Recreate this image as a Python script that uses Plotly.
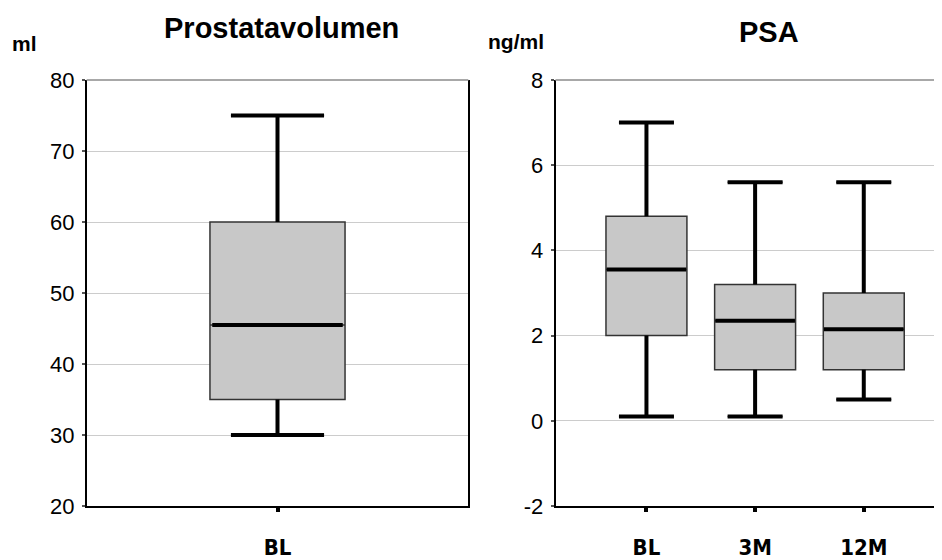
import plotly.graph_objects as go

# ---- data ----
vol_categories = ["BL"]
vol_lower = [30]
vol_q1 = [35]
vol_median = [45.5]
vol_q3 = [60]
vol_upper = [75]

psa_categories = ["BL", "3M", "12M"]
psa_lower = [0.1, 0.1, 0.5]
psa_q1 = [2.0, 1.2, 1.2]
psa_median = [3.55, 2.35, 2.15]
psa_q3 = [4.8, 3.2, 3.0]
psa_upper = [7.0, 5.6, 5.6]

vol_yticks = [20, 30, 40, 50, 60, 70, 80]
vol_yticktext = ["20", "30", "40", "50", "60", "70", "80"]
psa_yticks = [-2, 0, 2, 4, 6, 8]
psa_yticktext = ["-2", "0", "2", "4", "6", "8"]

# ---- style ----
BOX_FILL = "#c8c8c8"
OUTLINE = "#333333"
THICK = 4
GRID = "#cccccc"
TICKFONT = dict(family="Liberation Sans, Arial", size=22, color="black")
CATFONT = dict(family="Liberation Sans Narrow, DejaVu Sans Condensed, Liberation Sans", size=22, color="black")
TITLEFONT = dict(family="Liberation Sans, Arial", size=29, color="black")
UNITFONT = dict(family="Liberation Sans, Arial", size=21, color="black")

W, H = 942, 560
OFF = 8  # page body margin offset in the screenshot


def px_x(x):
    return (x - OFF) / W


def px_y(y):
    return 1 - (y - OFF) / H


L1, R1 = px_x(86.7), px_x(468.3)
L2, R2 = px_x(555.5), px_x(942)
YB, YT = px_y(506), px_y(80)


def whisker_median_lines(n, lower, q1, med, q3, upper, box_w, cap_w):
    xs, ys = [], []
    for i in range(n):
        xs += [i, i, None, i - cap_w / 2, i + cap_w / 2, None]
        ys += [q3[i], upper[i], None, upper[i], upper[i], None]
        xs += [i, i, None, i - cap_w / 2, i + cap_w / 2, None]
        ys += [q1[i], lower[i], None, lower[i], lower[i], None]
        xs += [i - box_w / 2 + 0.006, i + box_w / 2 - 0.006, None]
        ys += [med[i], med[i], None]
    return xs, ys


fig = go.Figure()

VOL_BOX_W, VOL_CAP_W = 0.354, 0.244
PSA_BOX_W, PSA_CAP_W = 0.745, 0.506

fig.add_trace(go.Box(
    x=list(range(len(vol_categories))), q1=vol_q1, median=vol_median, q3=vol_q3,
    lowerfence=vol_lower, upperfence=vol_upper, width=VOL_BOX_W, whiskerwidth=VOL_CAP_W / VOL_BOX_W,
    fillcolor=BOX_FILL, line=dict(color=OUTLINE, width=1.5), xaxis="x", yaxis="y",
    showlegend=False, hoverinfo="skip"))
xs, ys = whisker_median_lines(len(vol_categories), vol_lower, vol_q1, vol_median, vol_q3, vol_upper,
                              VOL_BOX_W, VOL_CAP_W)
fig.add_trace(go.Scatter(x=xs, y=ys, mode="lines", line=dict(color="black", width=THICK),
                         xaxis="x", yaxis="y", showlegend=False, hoverinfo="skip"))

fig.add_trace(go.Box(
    x=list(range(len(psa_categories))), q1=psa_q1, median=psa_median, q3=psa_q3,
    lowerfence=psa_lower, upperfence=psa_upper, width=PSA_BOX_W, whiskerwidth=PSA_CAP_W / PSA_BOX_W,
    fillcolor=BOX_FILL, line=dict(color=OUTLINE, width=1.5), xaxis="x2", yaxis="y2",
    showlegend=False, hoverinfo="skip"))
xs, ys = whisker_median_lines(len(psa_categories), psa_lower, psa_q1, psa_median, psa_q3, psa_upper,
                              PSA_BOX_W, PSA_CAP_W)
fig.add_trace(go.Scatter(x=xs, y=ys, mode="lines", line=dict(color="black", width=THICK),
                         xaxis="x2", yaxis="y2", showlegend=False, hoverinfo="skip"))

common_x = dict(showgrid=False, zeroline=False, showline=True, linecolor="black", linewidth=1.5,
                ticks="outside", ticklen=4, tickwidth=4, tickcolor="black",
                tickfont=CATFONT, ticklabelstandoff=17, automargin=False)
common_y = dict(showgrid=True, gridcolor=GRID, gridwidth=1, zeroline=False, showline=True,
                linecolor="black", linewidth=1.5, ticks="outside", ticklen=3, tickwidth=2,
                tickcolor="#555555", tickfont=TICKFONT, ticklabelstandoff=3, automargin=False)

fig.update_layout(
    width=W, height=H, margin=dict(l=0, r=0, t=0, b=0, autoexpand=False),
    paper_bgcolor="white", plot_bgcolor="white", showlegend=False,
    xaxis=dict(domain=[L1, R1], range=[-0.5, 0.5], tickvals=list(range(len(vol_categories))),
               ticktext=[f"<b>{c}</b>" for c in vol_categories], anchor="y", **common_x),
    yaxis=dict(domain=[YB, YT], range=[20, 80], tickvals=vol_yticks, ticktext=vol_yticktext,
               anchor="x", mirror=True, **common_y),
    xaxis2=dict(domain=[L2, R2], range=[-0.837, 2.72], tickvals=list(range(len(psa_categories))),
                ticktext=[f"<b>{c}</b>" for c in psa_categories], anchor="y2", **common_x),
    yaxis2=dict(domain=[YB, YT], range=[-2, 8], tickvals=psa_yticks, ticktext=psa_yticktext,
                anchor="x2", **common_y),
    shapes=[
        dict(type="line", xref="x domain", yref="y domain", x0=0, x1=1, y0=1, y1=1,
             line=dict(color="#a8a8a8", width=2), layer="above"),
        dict(type="line", xref="x2 domain", yref="y2 domain", x0=0, x1=1, y0=1, y1=1,
             line=dict(color="#a8a8a8", width=2), layer="above"),
    ],
    annotations=[
        dict(text="<b>Prostatavolumen</b>", x=px_x(281), y=px_y(28), xref="paper", yref="paper",
             showarrow=False, font=TITLEFONT, xanchor="center", yanchor="middle"),
        dict(text="<b>PSA</b>", x=px_x(769), y=px_y(32), xref="paper", yref="paper",
             showarrow=False, font=TITLEFONT, xanchor="center", yanchor="middle"),
        dict(text="<b>ml</b>", x=px_x(10), y=px_y(43), xref="paper", yref="paper",
             showarrow=False, font=UNITFONT, xanchor="left", yanchor="middle"),
        dict(text="<b>ng/ml</b>", x=px_x(486), y=px_y(41), xref="paper", yref="paper",
             showarrow=False, font=UNITFONT, xanchor="left", yanchor="middle"),
    ],
)

fig.write_html("out.html")
